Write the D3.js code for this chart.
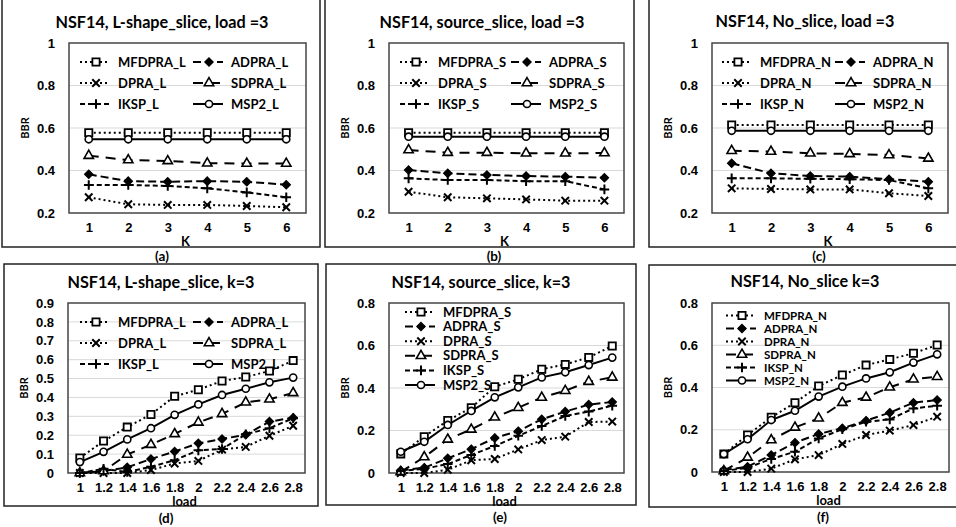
<!DOCTYPE html>
<html>
<head>
<meta charset="utf-8">
<script src="https://cdn.jsdelivr.net/npm/d3@7"></script>
<style>
  body { margin: 0; background: #fff; }
  svg { display: block; font-family: Lato, "Open Sans", sans-serif; font-weight: 700; }
</style>
</head>
<body>
<svg id="chart" width="956" height="527"></svg>
<script>
// categories
const kCats = ["1", "2", "3", "4", "5", "6"];
const loadCats = ["1", "1.2", "1.4", "1.6", "1.8", "2", "2.2", "2.4", "2.6", "2.8"];
const seriesNames = ["MFDPRA", "ADPRA", "DPRA", "SDPRA", "IKSP", "MSP2"];

// y ticks
const ticksTop = [0.2, 0.4, 0.6, 0.8, 1];
const ticksD = [0, 0.1, 0.2, 0.3, 0.4, 0.5, 0.6, 0.7, 0.8, 0.9];
const ticksEF = [0, 0.2, 0.4, 0.6, 0.8];

// values, one row per series in seriesNames order
const valuesA = [
  [0.578, 0.578, 0.578, 0.578, 0.578, 0.578],
  [0.382, 0.35, 0.347, 0.35, 0.347, 0.333],
  [0.274, 0.241, 0.238, 0.238, 0.233, 0.227],
  [0.47, 0.449, 0.445, 0.434, 0.433, 0.433],
  [0.332, 0.332, 0.327, 0.316, 0.297, 0.274],
  [0.547, 0.547, 0.547, 0.547, 0.547, 0.547]
];
const valuesB = [
  [0.578, 0.578, 0.578, 0.578, 0.578, 0.578],
  [0.402, 0.387, 0.379, 0.374, 0.371, 0.366],
  [0.3, 0.274, 0.269, 0.264, 0.258, 0.258],
  [0.496, 0.484, 0.484, 0.481, 0.481, 0.482],
  [0.363, 0.355, 0.355, 0.35, 0.35, 0.311],
  [0.559, 0.559, 0.559, 0.559, 0.559, 0.559]
];
const valuesC = [
  [0.614, 0.614, 0.614, 0.614, 0.614, 0.614],
  [0.434, 0.387, 0.374, 0.371, 0.359, 0.347],
  [0.316, 0.313, 0.311, 0.311, 0.293, 0.28],
  [0.493, 0.489, 0.481, 0.478, 0.473, 0.457],
  [0.363, 0.363, 0.361, 0.359, 0.355, 0.316],
  [0.587, 0.587, 0.587, 0.587, 0.587, 0.587]
];
const valuesD = [
  [0.08, 0.169, 0.243, 0.31, 0.406, 0.441, 0.487, 0.508, 0.54, 0.595],
  [0, 0.01, 0.03, 0.074, 0.114, 0.157, 0.18, 0.203, 0.272, 0.293],
  [0, 0, 0, 0.016, 0.05, 0.064, 0.124, 0.138, 0.197, 0.25],
  [0, 0.01, 0.098, 0.15, 0.207, 0.268, 0.313, 0.374, 0.39, 0.424],
  [0, 0.022, 0.005, 0.033, 0.068, 0.12, 0.127, 0.205, 0.237, 0.29],
  [0.058, 0.112, 0.178, 0.237, 0.308, 0.363, 0.413, 0.446, 0.48, 0.505]
];
const valuesE = [
  [0.09, 0.171, 0.247, 0.307, 0.406, 0.441, 0.488, 0.511, 0.544, 0.598],
  [0.012, 0.025, 0.069, 0.112, 0.165, 0.197, 0.253, 0.289, 0.322, 0.334],
  [0, 0, 0.015, 0.06, 0.066, 0.111, 0.155, 0.171, 0.24, 0.242],
  [0.005, 0.075, 0.158, 0.205, 0.262, 0.307, 0.355, 0.387, 0.43, 0.45],
  [0.01, 0.02, 0.042, 0.085, 0.127, 0.175, 0.221, 0.268, 0.289, 0.317],
  [0.1, 0.147, 0.226, 0.292, 0.356, 0.403, 0.45, 0.474, 0.508, 0.543]
];
const valuesF = [
  [0.085, 0.175, 0.259, 0.328, 0.407, 0.459, 0.506, 0.533, 0.562, 0.601],
  [0.009, 0.025, 0.08, 0.139, 0.18, 0.207, 0.243, 0.281, 0.328, 0.341],
  [0, 0, 0.016, 0.06, 0.08, 0.133, 0.175, 0.196, 0.222, 0.262],
  [0.005, 0.069, 0.151, 0.211, 0.254, 0.328, 0.353, 0.401, 0.439, 0.451],
  [0.005, 0.02, 0.062, 0.096, 0.159, 0.202, 0.238, 0.249, 0.301, 0.314],
  [0.085, 0.155, 0.246, 0.29, 0.357, 0.404, 0.443, 0.472, 0.518, 0.557]
];

// line + marker style per series
const styles = {
  MFDPRA: { dash: "2,3", symbol: d3.symbolSquare, size: 52, fill: "#fff", sw: 1.8 },
  ADPRA:  { dash: "8,4", symbol: d3.symbolDiamond2 || d3.symbolDiamond, size: 44, fill: "#000", sw: 1.2 },
  DPRA:   { dash: "2,3", symbol: d3.symbolTimes || d3.symbolCross, size: 38, fill: "none", sw: 2 },
  SDPRA:  { dash: "10,7", symbol: d3.symbolTriangle, size: 38, fill: "#fff", sw: 1.6 },
  IKSP:   { dash: "5,3", symbol: d3.symbolPlus || d3.symbolCross, size: 32, fill: "none", sw: 2 },
  MSP2:   { dash: null, symbol: d3.symbolCircle, size: 40, fill: "#fff", sw: 1.6 }
};

const panels = [
  { title: "NSF14, L-shape_slice, load =3", suffix: "_L", cats: kCats, values: valuesA, ticks: ticksTop, domain: [0.2, 1],
    box: [2, -3, 318, 250], plot: [69, 306, 43, 213], titleX: 162, titleY: 28, cap: "(a)", capX: 162, capY: 261, xlab: "K",
    legend: { x0: 80, dx: 113, y0: 62, dy: 21, cols: 2, fs: 13 } },
  { title: "NSF14, source_slice, load =3", suffix: "_S", cats: kCats, values: valuesB, ticks: ticksTop, domain: [0.2, 1],
    box: [325, -3, 309, 250], plot: [389, 624, 43, 213], titleX: 482, titleY: 28, cap: "(b)", capX: 494, capY: 261, xlab: "K",
    legend: { x0: 400, dx: 111, y0: 62, dy: 21, cols: 2, fs: 13 } },
  { title: "NSF14, No_slice, load =3", suffix: "_N", cats: kCats, values: valuesC, ticks: ticksTop, domain: [0.2, 1],
    box: [649, -3, 320, 250], plot: [712, 948, 43, 213], titleX: 805, titleY: 27, cap: "(c)", capX: 819, capY: 261, xlab: "K",
    legend: { x0: 722, dx: 113, y0: 62, dy: 21, cols: 2, fs: 13 } },
  { title: "NSF14, L-shape_slice, k=3", suffix: "_L", cats: loadCats, values: valuesD, ticks: ticksD, domain: [0, 0.9],
    box: [4, 264, 314, 242], plot: [68, 305, 303, 473], titleX: 161, titleY: 288, cap: "(d)", capX: 166, capY: 523, xlab: "load",
    legend: { x0: 80, dx: 113, y0: 322, dy: 21, cols: 2, fs: 13 } },
  { title: "NSF14, source_slice, k=3", suffix: "_S", cats: loadCats, values: valuesE, ticks: ticksEF, domain: [0, 0.8],
    box: [326, 264, 310, 241], plot: [389, 624, 303, 473], titleX: 481, titleY: 288, cap: "(e)", capX: 500, capY: 522, xlab: "load",
    legend: { x0: 405, dx: 0, y0: 312, dy: 14.6, cols: 1, fs: 13 } },
  { title: "NSF14, No_slice k=3", suffix: "_N", cats: loadCats, values: valuesF, ticks: ticksEF, domain: [0, 0.8],
    box: [649, 265, 320, 242], plot: [712, 949, 303, 472], titleX: 805, titleY: 287, cap: "(f)", capX: 823, capY: 522, xlab: "load",
    legend: { x0: 726, dx: 0, y0: 315.5, dy: 13, cols: 1, fs: 11.5 } }
];

const svg = d3.select("#chart");

function drawMarker(g, name, x, y) {
  const st = styles[name];
  g.append("path")
    .attr("d", d3.symbol().type(st.symbol).size(st.size)())
    .attr("transform", `translate(${x},${y})`)
    .attr("fill", st.fill)
    .attr("stroke", "#000")
    .attr("stroke-width", st.sw);
}

function drawPanel(p) {
  const [l, r, t, b] = p.plot;
  const g = svg.append("g");

  // outer frame
  g.append("rect")
    .attr("x", p.box[0]).attr("y", p.box[1])
    .attr("width", p.box[2]).attr("height", p.box[3])
    .attr("fill", "none").attr("stroke", "#222").attr("stroke-width", 1.5);

  g.append("text").attr("x", p.titleX).attr("y", p.titleY)
    .attr("text-anchor", "middle").attr("font-size", 16.2).text(p.title);
  g.append("text").attr("x", p.capX).attr("y", p.capY)
    .attr("text-anchor", "middle").attr("font-size", 13.5).text(p.cap);

  const x = d3.scalePoint().domain(p.cats).range([l, r]).padding(0.5);
  const y = d3.scaleLinear().domain(p.domain).range([b, t]);

  // grid lines
  g.append("g").selectAll("line").data(p.ticks.slice(1, -1)).join("line")
    .attr("x1", l).attr("x2", r)
    .attr("y1", d => y(d)).attr("y2", d => y(d))
    .attr("stroke", "#d9d9d9").attr("stroke-width", 1);

  // y axis
  const ya = g.append("g").attr("transform", `translate(${l - 14},0)`)
    .call(d3.axisLeft(y).tickValues(p.ticks).tickSize(0).tickPadding(0).tickFormat(d3.format("")));
  ya.select(".domain").remove();
  ya.selectAll("text").attr("font-size", 13).attr("font-family", null).attr("font-weight", 700).attr("fill", "#000");

  // x axis
  const xa = g.append("g").attr("transform", `translate(0,${b + 10})`)
    .call(d3.axisBottom(x).tickSize(0).tickPadding(0));
  xa.select(".domain").remove();
  xa.selectAll("text").attr("font-size", 13).attr("font-family", null).attr("font-weight", 700).attr("fill", "#000");

  g.append("text").attr("x", (l + r) / 2 - 2).attr("y", b + 33)
    .attr("text-anchor", "middle").attr("font-size", 13).text(p.xlab);
  g.append("text")
    .attr("transform", `translate(${l - 40},${(t + b) / 2}) rotate(-90)`)
    .attr("text-anchor", "middle").attr("font-size", 11).text("BBR");

  // plot border
  g.append("rect").attr("x", l).attr("y", t).attr("width", r - l).attr("height", b - t)
    .attr("fill", "none").attr("stroke", "#444").attr("stroke-width", 1.5);

  // legend
  const lg = p.legend;
  seriesNames.forEach((name, i) => {
    const col = i % lg.cols, row = Math.floor(i / lg.cols);
    const lx = lg.x0 + col * lg.dx, ly = lg.y0 + row * lg.dy;
    const st = styles[name];
    g.append("line").attr("x1", lx).attr("x2", lx + 30).attr("y1", ly).attr("y2", ly)
      .attr("stroke", "#000").attr("stroke-width", 2)
      .attr("stroke-dasharray", st.dash);
    drawMarker(g, name, lx + 16, ly);
    g.append("text").attr("x", lx + 38).attr("y", ly + lg.fs * 0.35)
      .attr("font-size", lg.fs).text(name + p.suffix);
  });

  // series
  const line = d3.line().x((d, i) => x(p.cats[i])).y(d => y(d));
  seriesNames.forEach((name, si) => {
    const vals = p.values[si];
    const st = styles[name];
    g.append("path").datum(vals).attr("d", line)
      .attr("fill", "none").attr("stroke", "#000").attr("stroke-width", 2)
      .attr("stroke-dasharray", st.dash);
    vals.forEach((v, i) => drawMarker(g, name, x(p.cats[i]), y(v)));
  });
}

panels.forEach(drawPanel);
</script>
</body>
</html>
